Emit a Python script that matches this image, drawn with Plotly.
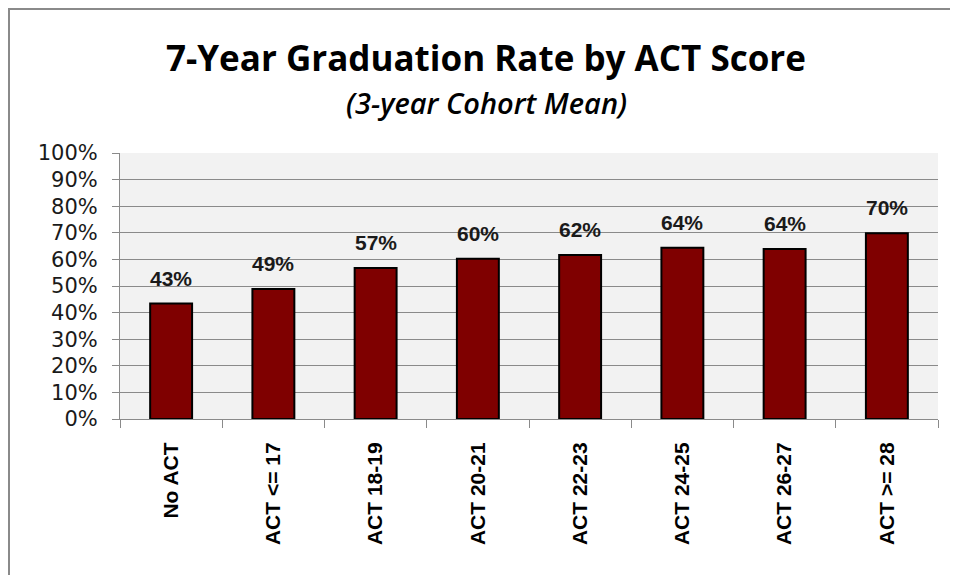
import plotly.graph_objects as go

# values
categories = ["No ACT", "ACT <= 17", "ACT 18-19", "ACT 20-21",
              "ACT 22-23", "ACT 24-25", "ACT 26-27", "ACT >= 28"]
grad_rate = [0.434, 0.489, 0.568, 0.602, 0.617, 0.644, 0.639, 0.698]
y_ticks = [i / 10 for i in range(11)]

# page has an 8px body margin, so the figure is a bit smaller than the window
W, H = 950, 567
L, R, T, B = 112, 20, 145, 156
pw, ph = W - L - R, H - T - B


def px(x):
    # page pixel -> paper coordinate
    return (x - 8 - L) / pw


def py(y):
    return (H - B - (y - 8)) / ph


fig = go.Figure()

fig.add_trace(go.Bar(
    x=categories,
    y=grad_rate,
    width=0.41,
    marker=dict(color="#7f0000", line=dict(color="black", width=2)),
    hoverinfo="skip",
))

labels = [dict(x=c, y=v, text=f"{v:.0%}", showarrow=False,
               xanchor="center", yanchor="bottom", yshift=12,
               font=dict(family="Liberation Sans", size=21, color="#1a1a1a",
                         weight="bold"))
          for c, v in zip(categories, grad_rate)]

fig.update_layout(
    width=W, height=H,
    margin=dict(l=L, r=R, t=T, b=B),
    paper_bgcolor="white",
    plot_bgcolor="#f2f2f2",
    showlegend=False,
    font=dict(family="DejaVu Sans", color="#1a1a1a"),
    annotations=labels + [
        dict(text="<b>7-Year Graduation Rate by ACT Score</b>",
             x=px(486), y=py(57), xref="paper", yref="paper",
             showarrow=False, xanchor="center", yanchor="middle",
             font=dict(family="Open Sans", size=35, color="black")),
        dict(text="<i>(3-year Cohort Mean)</i>",
             x=px(486), y=py(103), xref="paper", yref="paper",
             showarrow=False, xanchor="center", yanchor="middle",
             font=dict(family="Open Sans", size=29, color="black",
                       weight=600)),
    ],
    shapes=[
        dict(type="line", xref="paper", yref="paper",
             x0=px(9), x1=px(9), y0=py(8), y1=py(H + 20),
             line=dict(color="#8a8a8a", width=2)),
        dict(type="line", xref="paper", yref="paper",
             x0=px(8), x1=px(W + 20), y0=py(9), y1=py(9),
             line=dict(color="#8a8a8a", width=2)),
    ],
)

fig.update_yaxes(
    range=[0, 1],
    tickvals=y_ticks,
    tickformat=".0%",
    ticks="outside", ticklen=7, tickcolor="#8a8a8a",
    ticklabelstandoff=10,
    showgrid=True, gridcolor="#8a8a8a", gridwidth=1,
    showline=True, linecolor="#8a8a8a", linewidth=1,
    zeroline=False,
    tickfont=dict(family="DejaVu Sans", size=21, color="#1a1a1a"),
)

fig.update_xaxes(
    tickangle=-90,
    ticks="outside", ticklen=8, tickcolor="#8a8a8a",
    tickson="boundaries",
    ticklabelstandoff=14,
    showline=True, linecolor="#8a8a8a", linewidth=1,
    showgrid=False,
    tickfont=dict(family="Liberation Sans", size=21, color="black",
                  weight="bold"),
)

fig.write_html("out.html")
